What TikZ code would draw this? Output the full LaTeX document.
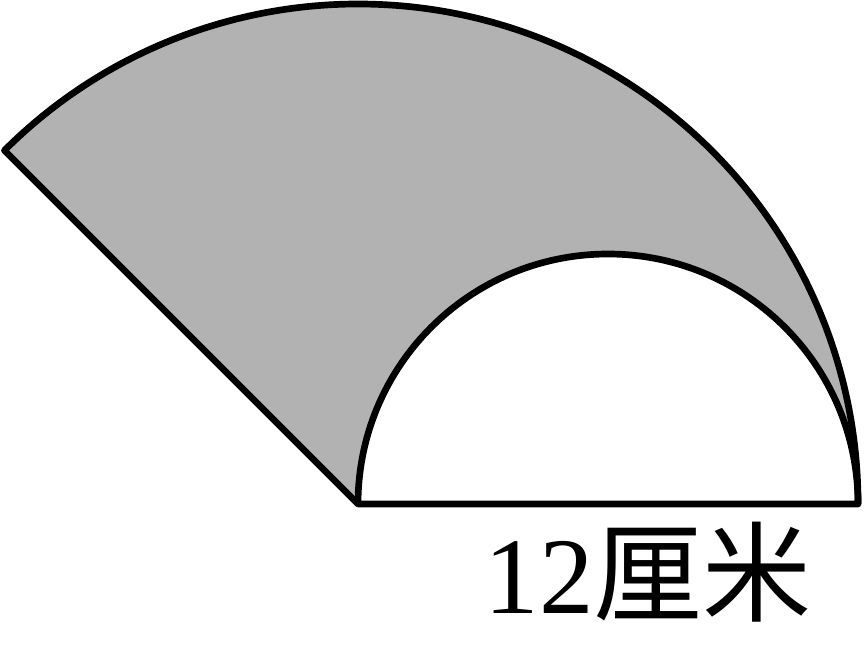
\documentclass[tikz,border=0pt]{standalone}
\usepackage{fontspec}
\setmainfont{Liberation Serif}
\newfontfamily\numfont{Liberation Serif}
\newfontfamily\cjk{Noto Sans CJK SC}

\begin{document}
\begin{tikzpicture}[line width=1.9pt, line join=round]
                \useasboundingbox (0,0) rectangle (8.64,6.52);
                \coordinate (O) at (3.58,1.48);
                \coordinate (A) at (8.58,1.48);
                \fill[color=gray!60] (O) -- (A) arc (0:135:5) -- cycle;
                \fill[white] (A) arc (0:180:2.5) -- cycle;
                \draw[black] (O) -- (A) arc (0:135:5) -- cycle;
                \draw[black] (A) arc (0:180:2.5);
                \node[anchor=base, inner sep=0pt] (len) at (6.48,0.39)
                {\fontsize{31}{37}\selectfont{\numfont 12}{\cjk 厘米}};
            \end{tikzpicture}
\end{document}
